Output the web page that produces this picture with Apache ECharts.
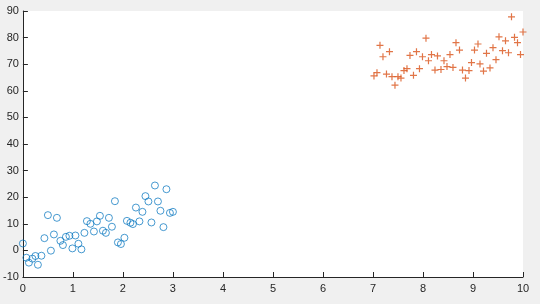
<!DOCTYPE html>
<html>
<head>
<meta charset="utf-8">
<script src="https://cdn.jsdelivr.net/npm/echarts@6/dist/echarts.min.js"></script>
<style>
html,body{margin:0;padding:0;background:#f0f0f0;}
#chart{width:540px;height:304px;}
</style>
</head>
<body>
<div id="chart"></div>
<script>
const xTicks = [0,1,2,3,4,5,6,7,8,9,10];
const yTicks = [-10,0,10,20,30,40,50,60,70,80,90];

const blueX = [0.00,0.07,0.12,0.19,0.25,0.30,0.37,0.43,0.50,0.56,0.62,0.68,0.75,0.80,0.86,0.93,0.99,1.05,1.11,1.17,1.23,1.28,1.35,1.42,1.48,1.54,1.60,1.66,1.72,1.78,1.84,1.90,1.96,2.03,2.08,2.15,2.20,2.26,2.33,2.39,2.45,2.51,2.57,2.64,2.70,2.75,2.81,2.87,2.94,3.00];
const blueY = [2.6,-2.75,-4.6,-3.1,-2.1,-5.4,-2.0,4.6,13.25,-0.1,6.0,12.25,3.6,2.0,5.1,5.5,0.75,5.6,2.5,0.4,6.6,11.0,10.0,7.1,10.9,13.0,7.4,6.6,12.25,8.9,18.5,3.0,2.4,4.75,11.1,10.4,9.9,16.1,10.9,14.5,20.4,18.4,10.5,24.4,18.4,14.9,8.75,23.0,14.1,14.5];

const redX = [7.02,7.08,7.14,7.20,7.27,7.33,7.38,7.44,7.50,7.56,7.62,7.68,7.74,7.81,7.87,7.93,7.99,8.06,8.11,8.17,8.24,8.29,8.36,8.42,8.48,8.54,8.60,8.66,8.73,8.79,8.85,8.92,8.97,9.03,9.10,9.14,9.21,9.27,9.34,9.40,9.46,9.52,9.59,9.65,9.71,9.77,9.83,9.89,9.95,10.00];
const redY = [65.6,66.8,77.1,72.8,66.3,74.7,65.3,62.1,65.3,64.8,67.6,68.3,73.3,65.8,74.7,68.3,72.8,79.8,71.3,73.6,67.8,73.1,68.0,71.3,69.1,73.6,68.8,78.1,75.3,67.8,64.8,67.6,70.6,75.3,77.6,70.1,67.4,74.1,68.6,76.2,71.7,80.3,75.1,78.8,74.3,87.8,80.1,78.1,73.6,82.1];

const blueData = blueX.map((x,i)=>[x, blueY[i]]);
const redData = redX.map((x,i)=>[x, redY[i]]);

const chart = echarts.init(document.getElementById('chart'), null, {renderer:'canvas'});
const axisCommon = {
  axisLine:{show:true, onZero:false, lineStyle:{color:'#262626', width:1}},
  axisTick:{show:true, inside:true, length:5, lineStyle:{color:'#262626'}},
  splitLine:{show:false},
  axisLabel:{color:'#262626', fontFamily:'Liberation Sans, Arial, sans-serif', fontSize:11}
};
chart.setOption({
  backgroundColor:'#f0f0f0',
  animation:false,
  grid:{left:21, right:17, top:11, bottom:27, show:true, backgroundColor:'#ffffff', borderWidth:0},
  xAxis:Object.assign({}, axisCommon, {
    type:'value', min:xTicks[0], max:xTicks[xTicks.length-1], interval:1,
    axisLabel:Object.assign({}, axisCommon.axisLabel, {margin:6})
  }),
  yAxis:Object.assign({}, axisCommon, {
    type:'value', min:yTicks[0], max:yTicks[yTicks.length-1], interval:10,
    axisLabel:Object.assign({}, axisCommon.axisLabel, {margin:4})
  }),
  series:[
    {type:'scatter', data:blueData, symbol:'circle', symbolSize:7,
     itemStyle:{color:'rgba(0,0,0,0)', borderColor:'#0072BD', borderWidth:0.9}},
    {type:'scatter', data:redData, symbol:'path://M0,-1L0,1M-1,0L1,0', symbolSize:7,
     itemStyle:{color:'none', borderColor:'#D95319', borderWidth:1.2}}
  ]
});
</script>
</body>
</html>
